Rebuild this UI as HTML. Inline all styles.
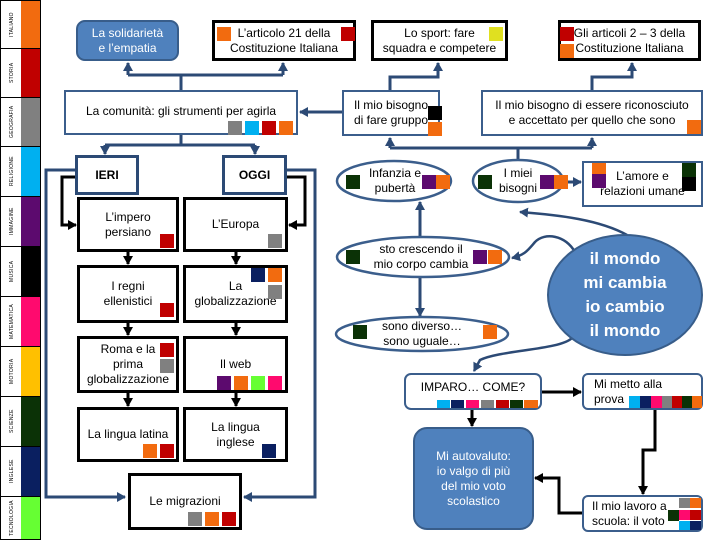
<!DOCTYPE html>
<html><head><meta charset="utf-8"><style>
body{margin:0;width:720px;height:540px;background:#fff;position:relative;overflow:hidden;font-family:"Liberation Sans Narrow","Liberation Sans",sans-serif;}
.b{position:absolute;box-sizing:border-box;background:#fff;display:flex;align-items:center;justify-content:center;text-align:center;font-size:12px;line-height:15px;color:#000;}
.k{border:3px solid #000;}
.u{border:2px solid #3b5e8c;}
.f{background:#4f81bd;border:2px solid #385d8a;border-radius:9px;color:#fff;}
.s{position:absolute;width:14px;height:14px;}
.sb{position:absolute;left:0;width:41px;box-sizing:border-box;border:1px solid #000;}
.sb span{position:absolute;left:2px;width:18px;top:0;bottom:0;display:flex;align-items:center;justify-content:center;font-size:5px;writing-mode:vertical-rl;transform:rotate(180deg);letter-spacing:.3px}
.sb i{position:absolute;left:20px;right:0;top:0;bottom:0;}
svg{position:absolute;left:0;top:0}
</style></head><body>
<div class="sb" style="top:0;height:49px"><span>ITALIANO</span><i style="background:#f26b0f"></i></div>
<div class="sb" style="top:48px;height:50px"><span>STORIA</span><i style="background:#c00000"></i></div>
<div class="sb" style="top:97px;height:50px"><span>GEOGRAFIA</span><i style="background:#808080"></i></div>
<div class="sb" style="top:146px;height:51px"><span>RELIGIONE</span><i style="background:#00b0f0"></i></div>
<div class="sb" style="top:196px;height:51px"><span>IMMAGINE</span><i style="background:#5c0a6e"></i></div>
<div class="sb" style="top:246px;height:51px"><span>MUSICA</span><i style="background:#000"></i></div>
<div class="sb" style="top:296px;height:51px"><span>MATEMATICA</span><i style="background:#ff0a6e"></i></div>
<div class="sb" style="top:346px;height:51px"><span>MOTORIA</span><i style="background:#ffc000"></i></div>
<div class="sb" style="top:396px;height:51px"><span>SCIENZE</span><i style="background:#0b3206"></i></div>
<div class="sb" style="top:446px;height:51px"><span>INGLESE</span><i style="background:#0a1f60"></i></div>
<div class="sb" style="top:496px;height:44px"><span>TECNOLOGIA</span><i style="background:#66ff33"></i></div>

<svg width="720" height="540">
<defs>
<marker id="ab" markerUnits="userSpaceOnUse" markerWidth="10" markerHeight="10" refX="8" refY="5" orient="auto"><path d="M0,0L9,5L0,10z" fill="#2c4a75"/></marker>
<marker id="ak" markerUnits="userSpaceOnUse" markerWidth="10" markerHeight="10" refX="8" refY="5" orient="auto"><path d="M0,0L9,5L0,10z" fill="#000"/></marker>
</defs>
<g fill="none" stroke="#2c4a75" stroke-width="3">
<path d="M77,170H46V497H125" marker-end="url(#ab)"/>
<path d="M287,170H315V497H244" marker-end="url(#ab)"/>
<path d="M181,90V75M128,75H283"/>
<path d="M128,75V63" marker-end="url(#ab)"/><path d="M283,75V63" marker-end="url(#ab)"/>
<path d="M181,135V145M105,145H255"/>
<path d="M105,145V154" marker-end="url(#ab)"/><path d="M255,145V154" marker-end="url(#ab)"/>
<path d="M342,112H300" marker-end="url(#ab)"/>
<path d="M390,90V77H438V63" marker-end="url(#ab)"/>
<path d="M592,90V77H632V63" marker-end="url(#ab)"/>
<path d="M518,160V148M390,148H592"/>
<path d="M390,148V138" marker-end="url(#ab)"/><path d="M592,148V138" marker-end="url(#ab)"/>
<path d="M563,182H581" marker-end="url(#ab)"/>
<path d="M420,237V202" marker-end="url(#ab)"/>
<path d="M420,277V316" marker-end="url(#ab)"/>
<path d="M627,235C600,220 560,215 520,212" marker-end="url(#ab)" stroke-width="2.5"/>
<path d="M575,252C565,235 545,232 535,242C528,250 525,255 512,258" marker-end="url(#ab)" stroke-width="2.5"/>
<path d="M572,338C560,350 500,350 480,360L474,371" marker-end="url(#ab)" stroke-width="2.5"/>
</g>
<g fill="none" stroke="#000" stroke-width="3">
<path d="M77,177H62V225H76" marker-end="url(#ak)"/>
<path d="M287,177H305V225H289" marker-end="url(#ak)"/>
<path d="M128,252V264" marker-end="url(#ak)"/><path d="M236,252V264" marker-end="url(#ak)"/>
<path d="M128,323V335" marker-end="url(#ak)"/><path d="M236,323V335" marker-end="url(#ak)"/>
<path d="M128,393V406" marker-end="url(#ak)"/><path d="M236,393V406" marker-end="url(#ak)"/>
<path d="M542,392H581" marker-end="url(#ak)"/>
<path d="M472,410V426" marker-end="url(#ak)"/>
<path d="M655,410V450H643V494" marker-end="url(#ak)"/>
<path d="M582,513H559V478H535" marker-end="url(#ak)"/>
</g>
<g stroke="#3b5e8c" stroke-width="2.5" fill="#fff">
<ellipse cx="394" cy="181" rx="57" ry="20"/>
<ellipse cx="518" cy="181" rx="45" ry="21"/>
<ellipse cx="423" cy="257" rx="86" ry="20"/>
<ellipse cx="422" cy="334" rx="86" ry="17"/>
</g>
<ellipse cx="625" cy="295" rx="77" ry="60" fill="#4f81bd" stroke="#385d8a" stroke-width="2"/>
</svg>

<div class="b f" style="left:76px;top:20px;width:103px;height:41px">La solidarietà<br>e l’empatia</div>
<div class="b k" style="left:212px;top:20px;width:144px;height:41px">L’articolo 21 della<br>Costituzione Italiana</div>
<div class="b u" style="left:64px;top:90px;width:234px;height:45px;padding-bottom:2px">La comunità: gli strumenti per agirla</div>
<div class="b u" style="left:75px;top:155px;width:64px;height:40px;border-color:#2c4a75;border-width:3px;font-weight:bold">IERI</div>
<div class="b u" style="left:222px;top:155px;width:65px;height:40px;border-color:#2c4a75;border-width:3px;font-weight:bold">OGGI</div>
<div class="b k" style="left:77px;top:197px;width:102px;height:55px">L’impero<br>persiano</div>
<div class="b k" style="left:183px;top:197px;width:105px;height:55px">L’Europa</div>
<div class="b k" style="left:77px;top:265px;width:102px;height:58px">I regni<br>ellenistici</div>
<div class="b k" style="left:183px;top:265px;width:105px;height:58px">La<br>globalizzazione</div>
<div class="b k" style="left:77px;top:336px;width:102px;height:57px">Roma e la<br>prima<br>globalizzazione</div>
<div class="b k" style="left:183px;top:336px;width:105px;height:57px">Il web</div>
<div class="b k" style="left:77px;top:407px;width:102px;height:55px">La lingua latina</div>
<div class="b k" style="left:183px;top:407px;width:105px;height:55px">La lingua<br>inglese</div>
<div class="b k" style="left:128px;top:473px;width:114px;height:57px">Le migrazioni</div>

<div class="b k" style="left:371px;top:20px;width:137px;height:41px">Lo sport: fare<br>squadra e competere</div>
<div class="b k" style="left:558px;top:20px;width:143px;height:41px">Gli articoli 2 – 3 della<br>Costituzione Italiana</div>
<div class="b u" style="left:342px;top:90px;width:98px;height:46px">Il mio bisogno<br>di fare gruppo</div>
<div class="b u" style="left:481px;top:90px;width:222px;height:46px">Il mio bisogno di essere riconosciuto<br>e accettato per quello che sono</div>
<div class="b" style="left:360px;top:166px;width:70px;height:30px;background:none">Infanzia e<br>pubertà</div>
<div class="b" style="left:490px;top:166px;width:56px;height:30px;background:none">I miei<br>bisogni</div>
<div class="b u" style="left:582px;top:161px;width:121px;height:46px">L’amore e<br>relazioni umane</div>
<div class="b" style="left:360px;top:242px;width:122px;height:30px;background:none">sto crescendo il<br>mio corpo cambia</div>
<div class="b" style="left:370px;top:319px;width:104px;height:30px;background:none">sono diverso…<br>sono uguale…</div>
<div class="b" style="left:560px;top:247px;width:130px;height:96px;background:none;color:#fff;font-size:17px;line-height:24px;font-weight:bold">il mondo<br>mi cambia<br>io cambio<br>il mondo</div>
<div class="b u" style="left:404px;top:373px;width:138px;height:37px;border-radius:7px;padding-bottom:8px">IMPARO… COME?</div>
<div class="b u" style="left:582px;top:373px;width:121px;height:37px;border-radius:6px;justify-content:flex-start;text-align:left;padding-left:10px">Mi metto alla<br>prova</div>
<div class="b f" style="left:413px;top:427px;width:121px;height:103px;border-radius:14px">Mi autovaluto:<br>io valgo di più<br>del mio voto<br>scolastico</div>
<div class="b u" style="left:582px;top:495px;width:121px;height:37px;border-radius:6px;justify-content:flex-start;text-align:left;padding-left:8px">Il mio lavoro a<br>scuola: il voto</div>

<div class="s" style="left:217px;top:27px;background:#f26b0f"></div>
<div class="s" style="left:341px;top:27px;background:#c00000"></div>
<div class="s" style="left:228px;top:121px;background:#808080"></div>
<div class="s" style="left:245px;top:121px;background:#00b0f0"></div>
<div class="s" style="left:262px;top:121px;background:#c00000"></div>
<div class="s" style="left:279px;top:121px;background:#f26b0f"></div>
<div class="s" style="left:160px;top:234px;background:#c00000"></div>
<div class="s" style="left:268px;top:234px;background:#808080"></div>
<div class="s" style="left:251px;top:268px;background:#0a1f60"></div>
<div class="s" style="left:268px;top:268px;background:#f26b0f"></div>
<div class="s" style="left:268px;top:285px;background:#808080"></div>
<div class="s" style="left:160px;top:303px;background:#c00000"></div>
<div class="s" style="left:160px;top:343px;background:#c00000"></div>
<div class="s" style="left:160px;top:359px;background:#808080"></div>
<div class="s" style="left:217px;top:376px;background:#5c0a6e"></div>
<div class="s" style="left:234px;top:376px;background:#f26b0f"></div>
<div class="s" style="left:251px;top:376px;background:#66ff33"></div>
<div class="s" style="left:268px;top:376px;background:#ff0a6e"></div>
<div class="s" style="left:143px;top:444px;background:#f26b0f"></div>
<div class="s" style="left:160px;top:444px;background:#c00000"></div>
<div class="s" style="left:262px;top:444px;background:#0a1f60"></div>
<div class="s" style="left:188px;top:512px;background:#808080"></div>
<div class="s" style="left:205px;top:512px;background:#f26b0f"></div>
<div class="s" style="left:222px;top:512px;background:#c00000"></div>
<div class="s" style="left:489px;top:27px;background:#e0e020"></div>
<div class="s" style="left:560px;top:27px;background:#c00000"></div>
<div class="s" style="left:560px;top:44px;background:#f26b0f"></div>
<div class="s" style="left:428px;top:106px;background:#000"></div>
<div class="s" style="left:428px;top:122px;background:#f26b0f"></div>
<div class="s" style="left:687px;top:120px;background:#f26b0f"></div>
<div class="s" style="left:346px;top:175px;background:#0b3206"></div>
<div class="s" style="left:422px;top:175px;background:#5c0a6e"></div>
<div class="s" style="left:436px;top:175px;background:#f26b0f"></div>
<div class="s" style="left:478px;top:175px;background:#0b3206"></div>
<div class="s" style="left:540px;top:175px;background:#5c0a6e"></div>
<div class="s" style="left:554px;top:175px;background:#f26b0f"></div>
<div class="s" style="left:592px;top:163px;background:#f26b0f;height:11px"></div>
<div class="s" style="left:592px;top:174px;background:#5c0a6e"></div>
<div class="s" style="left:682px;top:163px;background:#0b3206"></div>
<div class="s" style="left:682px;top:177px;background:#000"></div>
<div class="s" style="left:346px;top:250px;background:#0b3206"></div>
<div class="s" style="left:473px;top:250px;background:#5c0a6e"></div>
<div class="s" style="left:488px;top:250px;background:#f26b0f"></div>
<div class="s" style="left:353px;top:325px;background:#0b3206"></div>
<div class="s" style="left:483px;top:325px;background:#f26b0f"></div>
<div class="s" style="left:437px;top:400px;width:13px;height:8px;background:#00b0f0"></div>
<div class="s" style="left:451px;top:400px;width:13px;height:8px;background:#0a1f60"></div>
<div class="s" style="left:466px;top:400px;width:13px;height:8px;background:#ff0a6e"></div>
<div class="s" style="left:481px;top:400px;width:13px;height:8px;background:#808080"></div>
<div class="s" style="left:496px;top:400px;width:13px;height:8px;background:#c00000"></div>
<div class="s" style="left:510px;top:400px;width:13px;height:8px;background:#0b3206"></div>
<div class="s" style="left:524px;top:400px;width:14px;height:8px;background:#f26b0f"></div>
<div class="s" style="left:629px;top:396px;width:11px;height:12px;background:#00b0f0"></div>
<div class="s" style="left:640px;top:396px;width:11px;height:12px;background:#0a1f60"></div>
<div class="s" style="left:651px;top:396px;width:11px;height:12px;background:#ff0a6e"></div>
<div class="s" style="left:662px;top:396px;width:10px;height:12px;background:#808080"></div>
<div class="s" style="left:672px;top:396px;width:10px;height:12px;background:#c00000"></div>
<div class="s" style="left:682px;top:396px;width:10px;height:12px;background:#0b3206"></div>
<div class="s" style="left:692px;top:396px;width:10px;height:12px;background:#f26b0f"></div>
<div class="s" style="left:679px;top:498px;width:11px;height:10px;background:#808080"></div>
<div class="s" style="left:690px;top:498px;width:11px;height:10px;background:#f26b0f"></div>
<div class="s" style="left:668px;top:510px;width:11px;height:11px;background:#0b3206"></div>
<div class="s" style="left:679px;top:510px;width:11px;height:10px;background:#ff0a6e"></div>
<div class="s" style="left:690px;top:510px;width:11px;height:10px;background:#c00000"></div>
<div class="s" style="left:679px;top:521px;width:11px;height:9px;background:#00b0f0"></div>
<div class="s" style="left:690px;top:521px;width:11px;height:9px;background:#0a1f60"></div>
</body></html>
